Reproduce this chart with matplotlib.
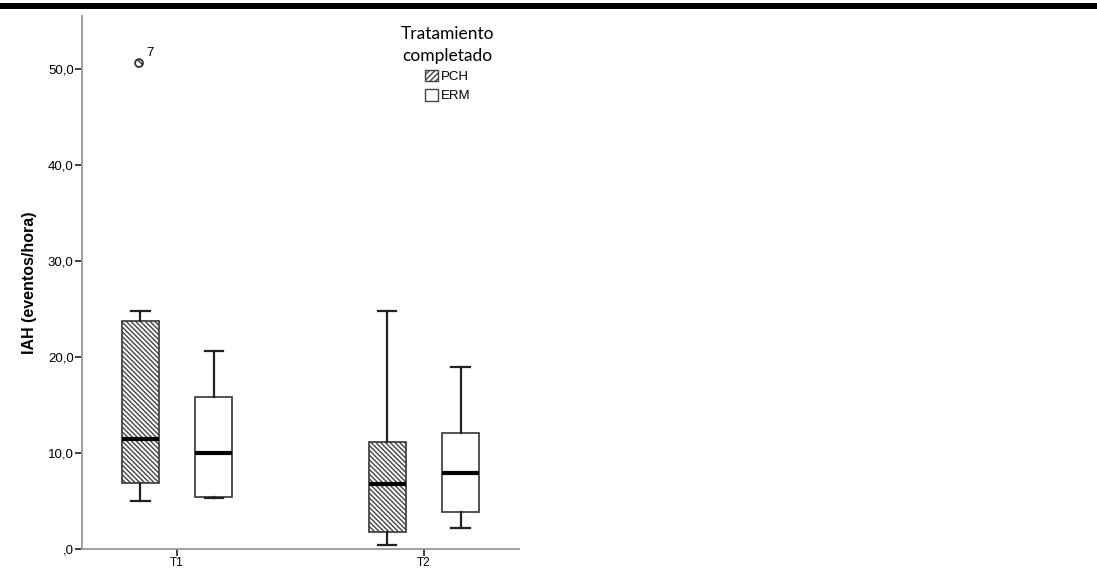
import numpy as np
import matplotlib.pyplot as plt
from matplotlib.patches import Rectangle, Patch

# IAH per visit, box statistics for each treatment
visits = ['T1', 'T2']
pch_whislo = [5.0, 0.4]
pch_q1 = [6.9, 1.75]
pch_med = [11.5, 6.75]
pch_q3 = [23.7, 11.1]
pch_whishi = [24.8, 24.8]

erm_whislo = [5.35, 2.2]
erm_q1 = [5.45, 3.9]
erm_med = [10.0, 7.9]
erm_q3 = [15.8, 12.1]
erm_whishi = [20.65, 19.0]

# outlier case (PCH at T1)
outlier_val = [50.6]
outlier_case = ['7']

yticks = [0, 10, 20, 30, 40, 50]
ytick_labels = [',0', '10,0', '20,0', '30,0', '40,0', '50,0']

plt.rcParams['font.family'] = ['Liberation Sans', 'DejaVu Sans']
plt.rcParams['hatch.linewidth'] = 1.0
plt.rcParams['hatch.color'] = '#333333'


def make_stats(lo, q1, med, q3, hi):
    out = []
    for i in range(len(lo)):
        out.append({'whislo': lo[i], 'q1': q1[i], 'med': med[i],
                    'q3': q3[i], 'whishi': hi[i], 'fliers': []})
    return out


fig = plt.figure(figsize=(10.97, 5.72), dpi=100)
ax = fig.add_axes([82 / 1097, 1 - 549 / 572, (519 - 82) / 1097, (549 - 16) / 572])

pos = np.arange(len(visits))
offset = 0.149
width = 0.15
line_col = '#222222'

for stats, shift, hatch in [(make_stats(pch_whislo, pch_q1, pch_med, pch_q3, pch_whishi), -offset, '\\' * 7),
                            (make_stats(erm_whislo, erm_q1, erm_med, erm_q3, erm_whishi), offset, None)]:
    bp = ax.bxp(stats, positions=pos + shift, widths=width, patch_artist=True,
                showfliers=False,
                boxprops=dict(facecolor='white', edgecolor='#444444', linewidth=1.3),
                medianprops=dict(color='black', linewidth=3.0, solid_capstyle='butt'),
                whiskerprops=dict(color=line_col, linewidth=1.6),
                capprops=dict(color=line_col, linewidth=1.6),
                capwidths=width / 2)
    if hatch:
        for b in bp['boxes']:
            b.set_hatch(hatch)

# outlier marker with its case number
ax.scatter([pos[0] - offset - 0.005], outlier_val, s=32, facecolor='white',
           edgecolor='#333333', linewidths=1.3, hatch='\\\\\\', zorder=5)
ax.annotate(outlier_case[0], (pos[0] - offset - 0.005, outlier_val[0]),
            xytext=(5, 5), textcoords='offset points', fontsize=9.5)

ax.set_xlim(-0.385, 1.385)
ax.set_ylim(0, 55.5)
ax.set_xticks(pos)
ax.set_xticklabels(visits, fontsize=8.5)
ax.set_yticks(yticks)
ax.set_yticklabels(ytick_labels, fontsize=9.5)
ax.tick_params(axis='both', direction='out', length=5, width=1.3, color='#333333', pad=1)

for side in ['top', 'right']:
    ax.spines[side].set_visible(False)
for side in ['left', 'bottom']:
    ax.spines[side].set_color('#999999')
    ax.spines[side].set_linewidth(1.3)

ax.set_ylabel('IAH (eventos/hora)', fontsize=11.5, fontweight='bold', labelpad=8)

handles = [Patch(facecolor='white', edgecolor='#444444', hatch='//////', label='PCH'),
           Patch(facecolor='white', edgecolor='#444444', label='ERM')]
leg = ax.legend(handles=handles, title='Tratamiento\ncompletado', loc='upper center',
                bbox_to_anchor=(0.837, 0.999), frameon=False, fontsize=9.5,
                handlelength=1.0, handleheight=1.0, handletextpad=0.2,
                labelspacing=0.45, borderpad=0.2,
                title_fontproperties={'family': 'Lato', 'size': 12.5})
leg.get_title().set_multialignment('center')
leg.get_title().set_linespacing(1.45)

# heavy rule across the top of the page
fig.patches.append(Rectangle((0, 1 - 9 / 572), 1, 6 / 572, transform=fig.transFigure,
                             facecolor='black', edgecolor='none'))

fig.savefig('out.png', dpi=100)
